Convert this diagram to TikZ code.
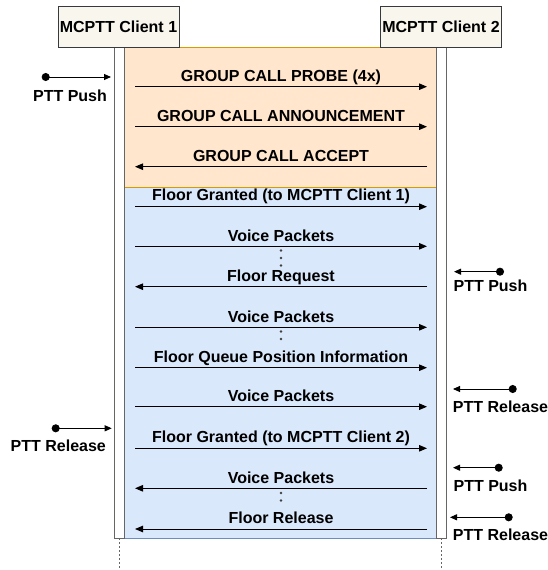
\documentclass[tikz,border=0pt]{standalone}
\usepackage{fontspec}
\setmainfont{Liberation Sans}
\usetikzlibrary{arrows.meta}
\definecolor{boxfill}{HTML}{F9F7ED}
\definecolor{boxline}{HTML}{36393D}
\definecolor{orfill}{HTML}{FFE6CC}
\definecolor{orline}{HTML}{D79B00}
\definecolor{blfill}{HTML}{DAE8FC}
\definecolor{blline}{HTML}{6C8EBF}
\definecolor{barline}{HTML}{666666}
\begin{document}
\begin{tikzpicture}[x=1pt,y=-1pt,
  lbl/.style={font=\fontsize{16}{19}\selectfont\bfseries, inner sep=0pt, anchor=base},
  mlbl/.style={font=\fontsize{16}{19}\selectfont\bfseries, inner sep=0pt, pos=0.5, anchor=base, yshift=5.3pt},
  client/.style={draw=boxline, fill=boxfill, line width=0.8pt, inner sep=0pt, minimum width=121pt, minimum height=41pt, font=\fontsize{16}{19}\selectfont\bfseries},
  msg/.style={line width=0.9pt, -{Triangle[length=8pt,width=6.5pt]}},
  ptt/.style={line width=0.9pt, {Circle[length=8pt]}-{Triangle[length=7pt,width=6pt]}},
  dots/.style={line width=2.8pt, line cap=round, dash pattern=on 0pt off 7.5pt, black!75},
  bar/.style={draw=barline, fill=white, line width=0.9pt}
]
\useasboundingbox (0,0) rectangle (548,570);
% regions
\path[fill=orfill] (124,47) rectangle (436,187);
\draw[orline, line width=0.9pt] (124,47) -- (436,47);
\path[fill=blfill] (124,187) rectangle (436,538);
\draw[orline, line width=0.9pt] (124,187) -- (436,187);
\draw[blline, line width=0.9pt] (124,538) -- (436,538);
% lifelines
\draw[bar] (114,47) rectangle (124,538);
\draw[bar] (436,47) rectangle (446,538);
\draw[barline, line width=0.7pt, dash pattern=on 2pt off 2pt] (119,538) -- (119,570);
\draw[barline, line width=0.7pt, dash pattern=on 2pt off 2pt] (441,538) -- (441,570);
% clients
\node[client] (c1) at (118.5,26.5) {MCPTT Client 1};
\node[client] (c2) at (441,26.5) {MCPTT Client 2};
% message endpoints
\foreach \n/\y in {a/86.7,b/126.7,c/166.7,d/206.7,e/246.3,f/286.7,g/327.3,h/367.7,i/406.7,j/448.3,k/488.3,l/529}{
  \coordinate (L\n) at (135,\y);
  \coordinate (R\n) at (427,\y);
}
\draw[msg] (La) -- (Ra) node[mlbl] (ta) {GROUP CALL PROBE (4x)};
\draw[msg] (Lb) -- (Rb) node[mlbl] (tb) {GROUP CALL ANNOUNCEMENT};
\draw[msg] (Rc) -- (Lc) node[mlbl] (tc) {GROUP CALL ACCEPT};
\draw[msg] (Ld) -- (Rd) node[mlbl, yshift=0.7pt] (td) {Floor Granted (to MCPTT Client 1)};
\draw[msg] (Le) -- (Re) node[mlbl] (te) {Voice Packets};
\draw[msg] (Rf) -- (Lf) node[mlbl] (tf) {Floor Request};
\draw[msg] (Lg) -- (Rg) node[mlbl] (tg) {Voice Packets};
\draw[msg] (Lh) -- (Rh) node[mlbl] (th) {Floor Queue Position Information};
\draw[msg] (Li) -- (Ri) node[mlbl] (ti) {Voice Packets};
\draw[msg] (Lj) -- (Rj) node[mlbl, yshift=0.7pt] (tj) {Floor Granted (to MCPTT Client 2)};
\draw[msg] (Rk) -- (Lk) node[mlbl] (tk) {Voice Packets};
\draw[msg] (Rl) -- (Ll) node[mlbl] (tl) {Floor Release};
% continuation dots
\draw[dots] (281,250.5) -- (281,266);
\draw[dots] (281,331.5) -- (281,346);
\draw[dots] (281,493) -- (281,508);
% PTT events
\coordinate (p1s) at (41.7,77); \coordinate (p1e) at (111,77);
\draw[ptt] (p1s) -- (p1e);
\node[lbl] (p1t) at (70,101) {PTT Push};
\coordinate (p2s) at (504,271.7); \coordinate (p2e) at (454,271.7);
\draw[ptt] (p2s) -- (p2e);
\node[lbl] (p2t) at (490.5,291) {PTT Push};
\coordinate (p3s) at (516.7,389); \coordinate (p3e) at (453,389);
\draw[ptt] (p3s) -- (p3e);
\node[lbl] (p3t) at (500.5,412) {PTT Release};
\coordinate (p4s) at (51.7,428.3); \coordinate (p4e) at (111.7,428.3);
\draw[ptt] (p4s) -- (p4e);
\node[lbl] (p4t) at (58.3,451.5) {PTT Release};
\coordinate (p5s) at (502.7,467.7); \coordinate (p5e) at (453,467.7);
\draw[ptt] (p5s) -- (p5e);
\node[lbl] (p5t) at (490.5,491) {PTT Push};
\coordinate (p6s) at (512.7,517.3); \coordinate (p6e) at (450,517.3);
\draw[ptt] (p6s) -- (p6e);
\node[lbl] (p6t) at (500.5,540) {PTT Release};
\end{tikzpicture}
\end{document}
